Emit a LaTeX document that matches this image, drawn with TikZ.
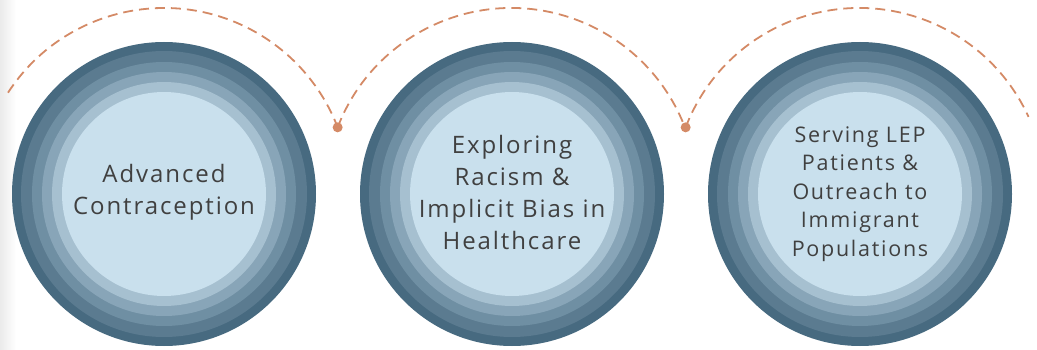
\documentclass[tikz,border=0pt]{standalone}
\usepackage{fontspec}
\setmainfont[LetterSpace=8]{Open Sans}
\usetikzlibrary{calc}
\definecolor{ringA}{HTML}{476A80}
\definecolor{ringB}{HTML}{5B7B90}
\definecolor{ringC}{HTML}{6F8FA3}
\definecolor{ringD}{HTML}{88A5B8}
\definecolor{ringE}{HTML}{A6C0D0}
\definecolor{ringF}{HTML}{C9E0ED}
\definecolor{arcc}{HTML}{D48A66}
\definecolor{txt}{HTML}{404040}
\tikzset{
  disc/.style={circle, fill=ringA, minimum size=304pt, inner sep=0pt},
  label/.style={text=txt, align=center, font=\fontsize{24}{32}\selectfont},
  labelsmall/.style={text=txt, align=center, font=\fontsize{21.5}{28.5}\selectfont},
  link/.style={draw=arcc, line width=1.8pt, dash pattern=on 10pt off 6pt},
  dot/.style={circle, fill=arcc, minimum size=10pt, inner sep=0pt},
}
\newcommand{\rings}[1]{%
  \fill[ringB] (#1) circle[radius=143pt];
  \fill[ringC] (#1) circle[radius=132pt];
  \fill[ringD] (#1) circle[radius=122pt];
  \fill[ringE] (#1) circle[radius=112pt];
  \fill[ringF] (#1) circle[radius=102pt];
}
\begin{document}
\begin{tikzpicture}[x=1pt,y=1pt]
\useasboundingbox (0,0) rectangle (1037,349);
\shade[left color=black!8, right color=white] (0,0) rectangle (16,349);
% circles
\node[disc] (n1) at (164,155) {};
\node[disc] (n2) at (512,155) {};
\node[disc] (n3) at (860,155) {};
\rings{n1}
\rings{n2}
\rings{n3}
\node[label] (t1) at (164,157) {Advanced\\Contraception};
\node[label] (t2) at (512,157) {Exploring\\Racism \&\\Implicit Bias in\\Healthcare};
\node[labelsmall] (t3) at (860,155) {Serving LEP\\Patients \&\\Outreach to\\Immigrant\\Populations};
% connector end points
\coordinate (s1) at ($(n1)+(147:186)$);
\coordinate (d1) at ($(n1)+(21:186)$);
\coordinate (d2) at ($(n2)+(21:186)$);
\coordinate (e3) at ($(n3)+(24.5:186)$);
\draw[link] (s1) arc[start angle=147, end angle=21, radius=186];
\draw[link] (d1) arc[start angle=159, end angle=21, radius=186];
\draw[link] (d2) arc[start angle=159, end angle=24.5, radius=186];
\node[dot] (p1) at (d1) {};
\node[dot] (p2) at (d2) {};
\end{tikzpicture}
\end{document}
